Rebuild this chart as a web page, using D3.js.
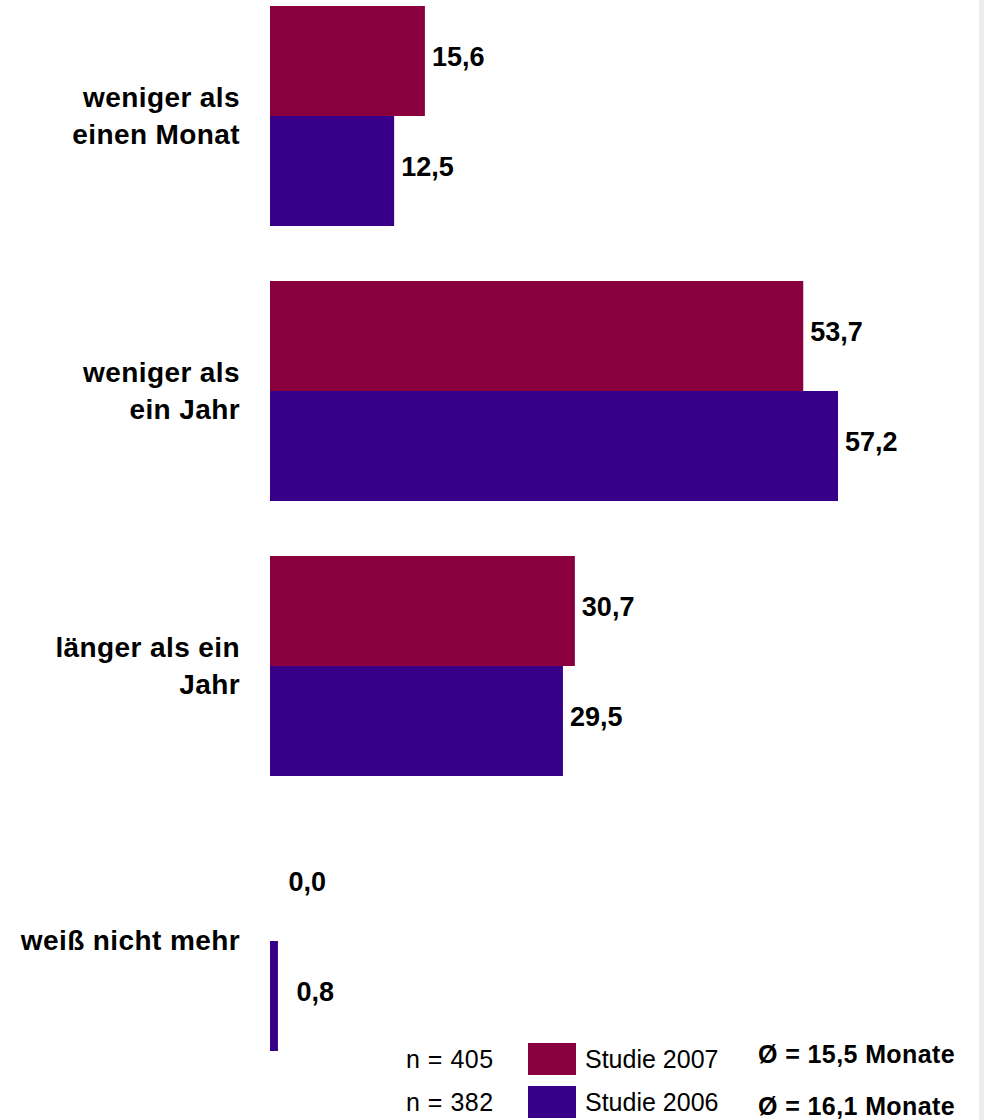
<!DOCTYPE html>
<html>
<head>
<meta charset="utf-8">
<script src="https://cdn.jsdelivr.net/npm/d3@7"></script>
<style>
  html, body { margin: 0; padding: 0; background: #fff; }
  svg { display: block; font-family: "Liberation Sans", Arial, sans-serif; }
</style>
</head>
<body>
<svg id="chart" width="984" height="1120"></svg>
<script>
// Dauer (Anteile in %) nach Studienjahr
const categories = [
  ["weniger als", "einen Monat"],
  ["weniger als", "ein Jahr"],
  ["länger als ein", "Jahr"],
  ["weiß nicht mehr"]
];
const seriesNames = ["Studie 2007", "Studie 2006"];
const values2007 = [15.6, 53.7, 30.7, 0.0];
const values2006 = [12.5, 57.2, 29.5, 0.8];
const sampleSizes = ["n = 405", "n = 382"];
const averages = ["Ø = 15,5 Monate", "Ø = 16,1 Monate"];
const colors = ["#8a003e", "#380088"];

const svg = d3.select("#chart");

// grey strip along the right edge
svg.append("rect").attr("x", 979).attr("y", 0).attr("width", 5).attr("height", 1120).attr("fill", "#ededed");

const catIdx = d3.range(categories.length);
const y = d3.scaleBand().domain(catIdx).range([6, 1051]).paddingInner(0.2).paddingOuter(0);
const ySub = d3.scaleBand().domain([0, 1]).range([0, y.bandwidth()]);
const x = d3.scaleLinear().domain([0, 60]).range([270, 270 + 60 * 9.93]);

const fmt = v => d3.format(".1f")(v).replace(".", ",");

const series = [values2007, values2006];
const rows = [];
series.forEach((vals, s) => vals.forEach((v, i) => rows.push({ s, i, v })));

const bars = svg.append("g");
bars.selectAll("rect").data(rows).join("rect")
  .attr("x", x(0))
  .attr("y", d => y(d.i) + ySub(d.s))
  .attr("width", d => x(d.v) - x(0))
  .attr("height", ySub.bandwidth())
  .attr("fill", d => colors[d.s]);

// value labels next to the bar ends
svg.append("g").selectAll("text").data(rows).join("text")
  .attr("x", d => x(d.v) + (d.v < 1 ? 18.5 : 7))
  .attr("y", d => y(d.i) + ySub(d.s) + ySub.bandwidth() / 2 + 5)
  .attr("font-size", 27)
  .attr("font-weight", "bold")
  .attr("fill", "#000")
  .text(d => fmt(d.v));

// category labels, right-aligned
const cat = svg.append("g").selectAll("text").data(catIdx).join("text")
  .attr("text-anchor", "end")
  .attr("font-size", 28)
  .attr("font-weight", "bold")
  .attr("letter-spacing", 0.4)
  .attr("fill", "#000");
cat.each(function (i) {
  const lines = categories[i];
  const c = y(i) + y.bandwidth() / 2;
  const lh = 37;
  const first = c + 9 - (lines.length - 1) * lh / 2;
  d3.select(this).selectAll("tspan").data(lines).join("tspan")
    .attr("x", 240)
    .attr("y", (l, k) => first + k * lh)
    .text(l => l);
});

// legend
const legendY = [1043, 1086];
const lg = svg.append("g");
seriesNames.forEach((name, s) => {
  const top = legendY[s];
  lg.append("text").attr("x", 406).attr("y", top + 25).attr("font-size", 25).attr("letter-spacing", 0.5).text(sampleSizes[s]);
  lg.append("rect").attr("x", 528).attr("y", top).attr("width", 48).attr("height", 32).attr("fill", colors[s]);
  lg.append("text").attr("x", 585).attr("y", top + 25).attr("font-size", 25).text(name);
  lg.append("text").attr("x", 758).attr("y", top + (s === 0 ? 20 : 29)).attr("font-size", 25)
    .attr("font-weight", "bold").attr("letter-spacing", 0.4).text(averages[s]);
});
</script>
</body>
</html>
